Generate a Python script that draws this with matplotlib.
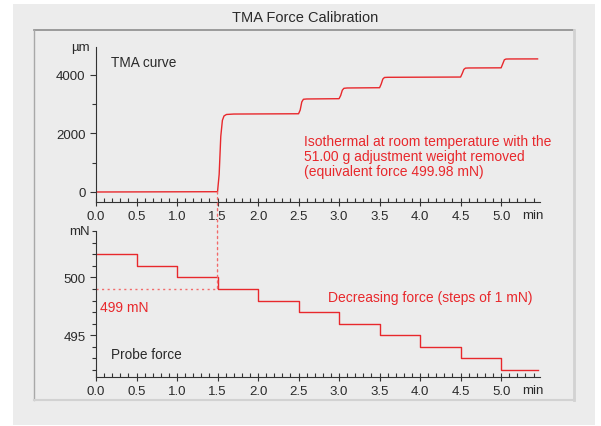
import matplotlib.pyplot as plt
from matplotlib.patches import Rectangle, ConnectionPatch
from matplotlib.lines import Line2D
from matplotlib.ticker import MultipleLocator

plt.rcParams['font.family'] = ['Liberation Sans', 'DejaVu Sans']

# TMA curve (min, um)
tma_time = [0.0, 1.50, 1.52, 1.54, 1.56, 1.58, 1.61, 1.70, 2.50, 2.52, 2.54, 2.56, 2.60,
            3.00, 3.02, 3.04, 3.06, 3.10, 3.50, 3.52, 3.54, 3.56, 3.60,
            4.50, 4.52, 4.54, 4.56, 4.60, 5.00, 5.02, 5.04, 5.06, 5.10, 5.45]
tma_um = [0, 10, 600, 1900, 2450, 2600, 2650, 2665, 2675, 2800, 3080, 3170, 3180,
          3190, 3300, 3480, 3545, 3556, 3565, 3690, 3860, 3915, 3921,
          3930, 4050, 4190, 4235, 4240, 4245, 4380, 4520, 4545, 4548, 4550]

# probe force steps (min, mN)
force_time = [0.0, 0.5, 1.0, 1.5, 2.0, 2.5, 3.0, 3.5, 4.0, 4.5, 5.0, 5.45]
force_mN = [502, 501, 500, 499, 498, 497, 496, 495, 494, 493, 492, 492]

x_ticks = [0.0, 0.5, 1.0, 1.5, 2.0, 2.5, 3.0, 3.5, 4.0, 4.5, 5.0]
x_labels = ['0.0', '0.5', '1.0', '1.5', '2.0', '2.5', '3.0', '3.5', '4.0', '4.5', '5.0']

red = '#e8282c'
dot_red = '#f26a6a'
txt = '#2a2a2a'

W, H = 601, 427
fig = plt.figure(figsize=(6.01, 4.27), dpi=100)
fig.patch.set_facecolor('white')

# gray panel and frame
fig.patches.append(Rectangle((13 / W, 1 - 426 / H), 582 / W, 421 / H, transform=fig.transFigure,
                             facecolor='#ececec', edgecolor='none', zorder=-10))
fx0, fx1, fy0, fy1 = 34 / W, 574 / W, 1 - 401 / H, 1 - 31 / H
fig.lines.append(Line2D([fx0, fx1], [fy1, fy1], transform=fig.transFigure, color='#8c8c8c', lw=1.2))
fig.lines.append(Line2D([fx0, fx0], [fy0, fy1], transform=fig.transFigure, color='#a8a8a8', lw=1))
fig.lines.append(Line2D([fx1, fx1], [fy0, fy1], transform=fig.transFigure, color='#d2d2d2', lw=2))
fig.lines.append(Line2D([fx0, fx1], [fy0, fy0], transform=fig.transFigure, color='#d2d2d2', lw=1.5))

fig.text(305 / W, 1 - 18 / H, 'TMA Force Calibration', ha='center', va='center', fontsize=10.5, color=txt)

ax1 = fig.add_axes([96 / W, 1 - 203 / H, 444 / W, 155 / H])
ax2 = fig.add_axes([96 / W, 1 - 378 / H, 444 / W, 146 / H])

for ax in (ax1, ax2):
    ax.set_facecolor('none')
    ax.spines['top'].set_visible(False)
    ax.spines['right'].set_visible(False)
    ax.spines['left'].set_color('#333333')
    ax.spines['bottom'].set_color('#333333')
    ax.set_xlim(0, 5.48)
    ax.set_xticks(x_ticks)
    ax.set_xticklabels(x_labels)
    ax.xaxis.set_minor_locator(MultipleLocator(0.1))
    ax.tick_params(axis='x', which='major', direction='inout', length=6, width=0.8,
                   labelsize=9.5, labelcolor=txt, color='#333333', pad=3)
    ax.tick_params(axis='x', which='minor', direction='in', length=3, width=0.8, color='#333333')
    ax.tick_params(axis='y', which='major', direction='out', length=4, width=0.8,
                   labelsize=9.5, labelcolor=txt, color='#333333')
    ax.tick_params(axis='y', which='minor', direction='out', length=3, width=0.8, color='#333333')
    # unit label at the end of the time axis
    ax.annotate('min', xy=(5.26, 0), xycoords=('data', 'axes fraction'), xytext=(0, -5),
                textcoords='offset points', ha='left', va='top', fontsize=9.5, color=txt)

# top: TMA curve
ax1.plot(tma_time, tma_um, color=red, lw=1)
ax1.set_ylim(-342, 4957)
ax1.set_yticks([0, 2000, 4000])
ax1.yaxis.set_minor_locator(MultipleLocator(1000))
ax1.text(-0.08, 4957, 'µm', ha='right', va='center', fontsize=9.5, color=txt, clip_on=False)
ax1.text(0.18, 4450, 'TMA curve', ha='left', va='center', fontsize=9.8, color=txt)
ax1.text(2.57, 1230,
         'Isothermal at room temperature with the\n51.00 g adjustment weight removed\n(equivalent force 499.98 mN)',
         ha='left', va='center', fontsize=10, color=red, linespacing=1.08)

# bottom: probe force
ax2.plot(force_time, force_mN, color=red, lw=1, drawstyle='steps-post')
ax2.set_ylim(491.4, 504)
ax2.set_yticks([495, 500])
ax2.yaxis.set_minor_locator(MultipleLocator(1))
ax2.text(-0.08, 504, 'mN', ha='right', va='center', fontsize=9.5, color=txt, clip_on=False)
ax2.text(0.05, 497.4, '499 mN', ha='left', va='center', fontsize=10, color=red)
ax2.text(0.19, 493.4, 'Probe force', ha='left', va='center', fontsize=9.8, color=txt)
ax2.text(2.86, 498.3, 'Decreasing force (steps of 1 mN)', ha='left', va='center', fontsize=10, color=red)

# dotted guides
ax2.plot([0, 1.5], [499, 499], color=dot_red, lw=1, ls=(0, (1.5, 2.5)))
con = ConnectionPatch(xyA=(1.5, 0), coordsA=ax1.transData, xyB=(1.5, 499), coordsB=ax2.transData,
                      color=dot_red, lw=1, ls=(0, (1.5, 2.5)))
fig.add_artist(con)

fig.savefig('out.png', dpi=100)
